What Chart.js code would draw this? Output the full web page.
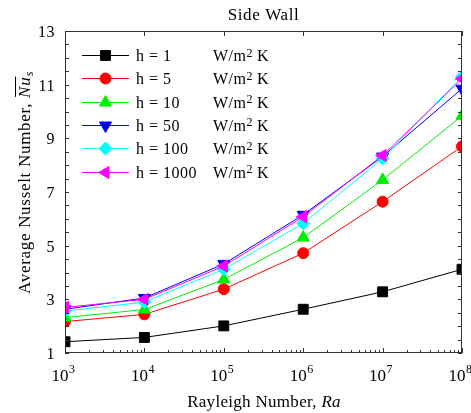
<!DOCTYPE html>
<html><head><meta charset="utf-8">
<script src="https://cdn.jsdelivr.net/npm/chart.js@4"></script>
<style>html,body{margin:0;padding:0;background:#fff}#wrap{width:471px;height:413px}</style>
</head><body><div id="wrap"><canvas id="c" width="471" height="413"></canvas></div>
<script>
// ---- data ----
const rayleigh = [1e3, 1e4, 1e5, 1e6, 1e7, 1e8];
const nuH1    = [1.42, 1.58, 2.01, 2.63, 3.28, 4.12];
const nuH5    = [2.17, 2.44, 3.38, 4.72, 6.64, 8.70];
const nuH10   = [2.32, 2.62, 3.74, 5.30, 7.45, 9.84];
const nuH50   = [2.63, 3.05, 4.32, 6.15, 8.32, 10.85];
const nuH100  = [2.56, 2.90, 4.12, 5.83, 8.25, 11.30];
const nuH1000 = [2.70, 3.00, 4.24, 6.08, 8.36, 11.22];
const seriesLabels = ['h = 1', 'h = 5', 'h = 10', 'h = 50', 'h = 100', 'h = 1000'];
const unitLabel = ['W/m', '2', ' K'];
const yTickLabels = [1, 3, 5, 7, 9, 11, 13];
const xTickExponents = [3, 4, 5, 6, 7, 8];
const chartTitle = 'Side Wall';
const xTitle = ['Rayleigh Number, ', 'Ra'];
const yTitle = ['Average Nusselt Number, ', 'Nu', 's'];

// ---- styles ----
const allSeries = [nuH1, nuH5, nuH10, nuH50, nuH100, nuH1000];
const colors = ['#000000', '#ff0000', '#00ee00', '#0000ff', '#00ffff', '#ff00ff'];
const markers = [
  {pointStyle: 'rect', rotation: 0, radius: 7},
  {pointStyle: 'circle', rotation: 0, radius: 5.5},
  {pointStyle: 'triangle', rotation: 0, radius: 7},
  {pointStyle: 'triangle', rotation: 180, radius: 7},
  {pointStyle: 'rectRot', rotation: 0, radius: 6.5},
  {pointStyle: 'triangle', rotation: 270, radius: 7}
];
const FONT = "'Liberation Serif', 'Times New Roman', serif";

const datasets = allSeries.map((s, i) => ({
  label: seriesLabels[i],
  data: rayleigh.map((x, j) => ({x: x, y: s[j]})),
  borderColor: colors[i],
  backgroundColor: colors[i],
  borderWidth: 1,
  pointStyle: markers[i].pointStyle,
  pointRotation: markers[i].rotation,
  pointRadius: markers[i].radius,
  pointHoverRadius: markers[i].radius,
  pointBackgroundColor: colors[i],
  pointBorderColor: colors[i],
  pointBorderWidth: 1,
  tension: 0,
  clip: 0,
  order: 5 - i
}));

function setFont(ctx, f, sp) {
  ctx.font = f;
  if ('letterSpacing' in ctx) ctx.letterSpacing = (sp || 0) + 'px';
}

const decorPlugin = {
  id: 'decor',
  afterDraw(chart) {
    const ctx = chart.ctx;
    const a = chart.chartArea;
    const xs = chart.scales.x, ys = chart.scales.y;
    ctx.save();
    // frame
    ctx.strokeStyle = '#333';
    ctx.lineWidth = 1;
    ctx.strokeRect(a.left + 0.5, a.top + 0.5, a.right - a.left - 1, a.bottom - a.top - 1);
    // y ticks
    ctx.beginPath();
    for (let v = 1; v <= 13.001; v += 0.5) {
      const py = Math.round(ys.getPixelForValue(v)) + 0.5;
      ctx.moveTo(a.left, py); ctx.lineTo(a.left + 4, py);
      ctx.moveTo(a.right, py); ctx.lineTo(a.right - 4, py);
    }
    // x ticks
    xTickExponents.forEach((e, idx) => {
      const px = Math.round(xs.getPixelForValue(Math.pow(10, e))) + 0.5;
      ctx.moveTo(px, a.bottom); ctx.lineTo(px, a.bottom - 5);
      ctx.moveTo(px, a.top); ctx.lineTo(px, a.top + 5);
      if (idx < xTickExponents.length - 1) {
        for (let k = 2; k <= 9; k++) {
          const mx = Math.round(xs.getPixelForValue(k * Math.pow(10, e))) + 0.5;
          ctx.moveTo(mx, a.bottom); ctx.lineTo(mx, a.bottom - 3);
        }
      }
    });
    ctx.stroke();

    ctx.fillStyle = '#000';
    // y tick labels
    setFont(ctx, '16px ' + FONT, 0.5);
    ctx.textAlign = 'right';
    ctx.textBaseline = 'alphabetic';
    yTickLabels.forEach(v => {
      ctx.fillText(String(v), a.left - 10, ys.getPixelForValue(v) + 6);
    });
    // x tick labels: 10^e
    ctx.textAlign = 'left';
    xTickExponents.forEach(e => {
      const px = xs.getPixelForValue(Math.pow(10, e));
      setFont(ctx, '17px ' + FONT, 0);
      const wb = ctx.measureText('10').width;
      setFont(ctx, '12px ' + FONT, 0);
      const we = ctx.measureText(String(e)).width;
      const x0 = px - 2 - (wb + we) / 2;
      setFont(ctx, '17px ' + FONT, 0);
      ctx.fillText('10', x0, 381);
      setFont(ctx, '12px ' + FONT, 0);
      ctx.fillText(String(e), x0 + wb + 0.5, 373);
    });
    // title
    setFont(ctx, '17px ' + FONT, 0.6);
    ctx.textAlign = 'center';
    ctx.fillText(chartTitle, (a.left + a.right) / 2, 20);
    // x title
    ctx.textAlign = 'left';
    setFont(ctx, '17px ' + FONT, 0.3);
    const w1 = ctx.measureText(xTitle[0]).width;
    setFont(ctx, 'italic 17px ' + FONT, 0.3);
    const w2 = ctx.measureText(xTitle[1]).width;
    let xt = 264 - (w1 + w2) / 2;
    setFont(ctx, '17px ' + FONT, 0.3);
    ctx.fillText(xTitle[0], xt, 407);
    setFont(ctx, 'italic 17px ' + FONT, 0.3);
    ctx.fillText(xTitle[1], xt + w1, 407);
    // y title (rotated)
    ctx.save();
    ctx.translate(30, 183);
    ctx.rotate(-Math.PI / 2);
    setFont(ctx, '17px ' + FONT, 0.7);
    const y1 = ctx.measureText(yTitle[0]).width;
    setFont(ctx, 'italic 17px ' + FONT, 0.7);
    const y2 = ctx.measureText(yTitle[1]).width;
    setFont(ctx, 'italic 12px ' + FONT, 0);
    const y3 = ctx.measureText(yTitle[2]).width;
    let yt = -(y1 + y2 + y3) / 2;
    setFont(ctx, '17px ' + FONT, 0.7);
    ctx.fillText(yTitle[0], yt, 0);
    setFont(ctx, 'italic 17px ' + FONT, 0.7);
    ctx.fillText(yTitle[1], yt + y1, 0);
    ctx.beginPath();
    ctx.moveTo(yt + y1 + 1, -14.5); ctx.lineTo(yt + y1 + y2, -14.5);
    ctx.lineWidth = 1; ctx.strokeStyle = '#000'; ctx.stroke();
    setFont(ctx, 'italic 12px ' + FONT, 0);
    ctx.fillText(yTitle[2], yt + y1 + y2 + 0.5, 3);
    ctx.restore();

    // legend
    const rowY = [55, 78.3, 101.6, 124.9, 148.2, 171.5];
    seriesLabels.forEach((lab, i) => {
      const ry = rowY[i];
      ctx.strokeStyle = colors[i];
      ctx.fillStyle = colors[i];
      ctx.lineWidth = 1;
      ctx.beginPath();
      ctx.moveTo(82, Math.round(ry) + 0.5); ctx.lineTo(129, Math.round(ry) + 0.5);
      ctx.stroke();
      Chart.helpers.drawPoint(ctx, {
        pointStyle: markers[i].pointStyle,
        rotation: markers[i].rotation,
        radius: markers[i].radius,
        borderWidth: 1
      }, 105.5, Math.round(ry) + 0.5);
      ctx.fillStyle = '#000';
      ctx.textAlign = 'left';
      setFont(ctx, '16px ' + FONT, 0.5);
      ctx.fillText(lab, 136, ry + 6);
      ctx.fillText(unitLabel[0], 213, ry + 6);
      const wu = ctx.measureText(unitLabel[0]).width;
      setFont(ctx, '12px ' + FONT, 0);
      ctx.fillText(unitLabel[1], 213 + wu, ry + 1.5);
      const ws = ctx.measureText(unitLabel[1]).width;
      setFont(ctx, '16px ' + FONT, 0.5);
      ctx.fillText(unitLabel[2], 213 + wu + ws, ry + 6);
    });
    ctx.restore();
  }
};

new Chart(document.getElementById('c'), {
  type: 'line',
  data: {datasets: datasets},
  options: {
    responsive: false,
    animation: false,
    devicePixelRatio: 1,
    layout: {padding: {left: 65, right: 9, top: 31, bottom: 60}},
    plugins: {legend: {display: false}, title: {display: false}, tooltip: {enabled: false}},
    scales: {
      x: {type: 'logarithmic', min: 1e3, max: 1e8, display: false},
      y: {type: 'linear', min: 1, max: 13, display: false}
    }
  },
  plugins: [decorPlugin]
});
</script>
</body></html>
